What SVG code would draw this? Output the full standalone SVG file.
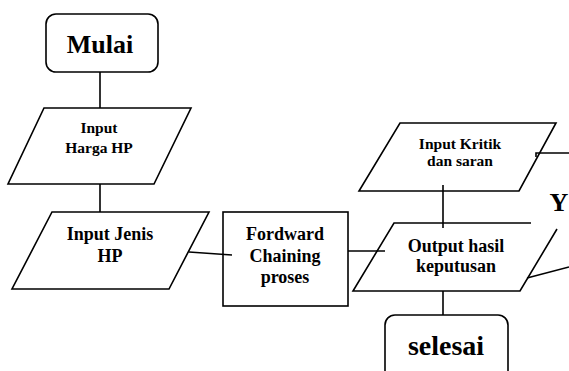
<svg xmlns="http://www.w3.org/2000/svg" width="569" height="371" viewBox="0 0 569 371">
<style>
.s{fill:#fff;stroke:#000;stroke-width:1.6}
.l{fill:none;stroke:#000;stroke-width:1.6}
text{font-family:"Liberation Serif","Times New Roman",serif;font-weight:bold;text-anchor:middle;fill:#000}
.big{font-size:26px}
.md{font-size:18px}
.sm{font-size:15.5px}
</style>
<rect width="569" height="371" fill="#fff"/>
<g id="mulai">
<rect class="s" x="46" y="14" width="112" height="58" rx="10"/>
<text class="big" x="100" y="53">Mulai</text>
</g>
<g id="input-harga">
<polygon class="s" points="44,108 191,108 154,184 8,184"/>
<text class="sm" x="99" y="133">Input</text>
<text class="sm" x="99" y="153">Harga HP</text>
</g>
<g id="input-jenis">
<polygon class="s" points="52,212 209,212 169,289 12,289"/>
<text class="md" x="110" y="240">Input Jenis</text>
<text class="md" x="110" y="262">HP</text>
</g>
<g id="forward">
<rect class="s" x="223" y="212" width="125" height="94"/>
<text class="md" x="285" y="240">Fordward</text>
<text class="md" x="285" y="262">Chaining</text>
<text class="md" x="285" y="283">proses</text>
</g>
<g id="input-kritik">
<polygon class="s" points="400,123 556,123 519,191 359,191"/>
<text class="sm" x="460" y="149">Input Kritik</text>
<text class="sm" x="460" y="166">dan saran</text>
</g>
<g id="output">
<polygon points="394,223 562,223 520,291 353,291" fill="#fff"/>
<polyline class="l" points="531,223 394,223 353,291 520,291 557,229"/>
<text class="md" x="456" y="252">Output hasil</text>
<text class="md" x="456" y="272">keputusan</text>
</g>
<g id="selesai">
<rect class="s" x="385" y="315" width="123" height="80" rx="10"/>
<text class="big" x="446" y="355" style="font-size:28px">selesai</text>
</g>
<g id="y-label">
<text x="559" y="211" style="font-size:26px">Y</text>
</g>
<g id="connectors">
<line class="l" x1="100" y1="72" x2="100" y2="108"/>
<line class="l" x1="100" y1="184" x2="100" y2="212"/>
<line class="l" x1="189" y1="252" x2="232" y2="255"/>
<line class="l" x1="348" y1="251" x2="385" y2="251"/>
<line class="l" x1="443" y1="185" x2="443" y2="228"/>
<line class="l" x1="443" y1="291" x2="443" y2="315"/>
<polyline class="l" points="536,157 536,153 569,153"/>
<line class="l" x1="527" y1="278" x2="569" y2="267"/>
</g>
</svg>
